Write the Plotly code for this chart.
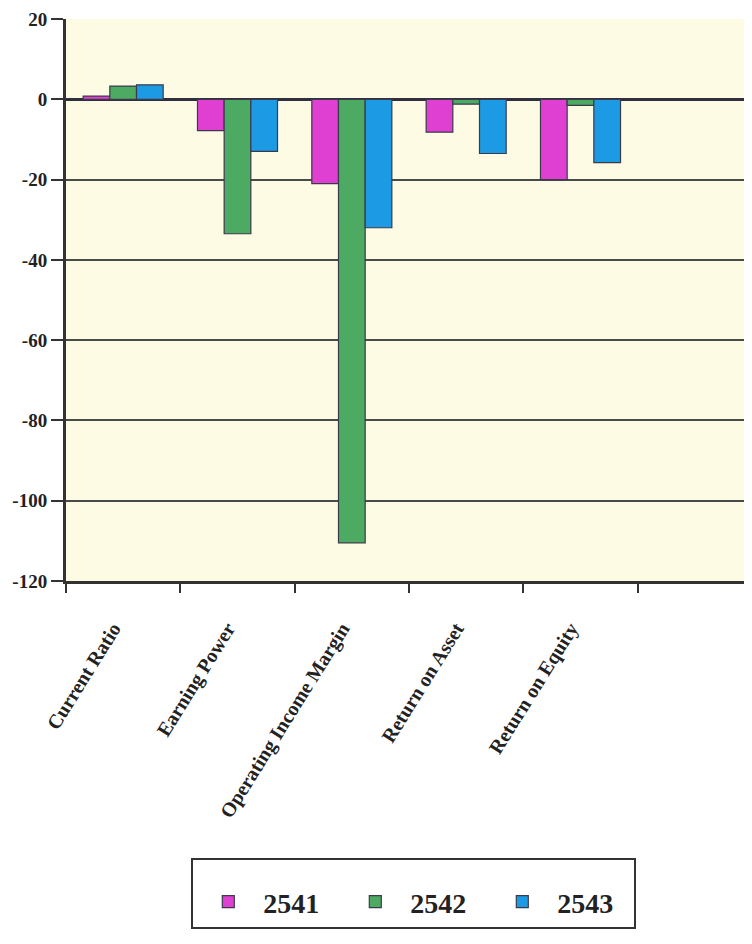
import plotly.graph_objects as go

categories = ["Current Ratio", "Earning Power", "Operating Income Margin",
              "Return on Asset", "Return on Equity", " "]
years = ["2541", "2542", "2543"]
v2541 = [0.8, -7.8, -21.0, -8.2, -20.0, None]
v2542 = [3.3, -33.5, -110.5, -1.2, -1.5, None]
v2543 = [3.6, -13.0, -32.0, -13.5, -15.8, None]
colors = ["#E040D2", "#4DAA62", "#1C9BE4"]
yticks = [20, 0, -20, -40, -60, -80, -100, -120]
yticklabels = ["20", "0", "-20", "-40", "-60", "-80", "-100", "-120"]

fig = go.Figure()
for name, vals, col in zip(years, [v2541, v2542, v2543], colors):
    fig.add_trace(go.Bar(x=categories, y=vals, name=name,
                         marker=dict(color=col, line=dict(color="#3a3a4a", width=1.2))))

serif = "Liberation Serif"
fig.update_layout(
    width=744, height=928,
    margin=dict(l=58, r=0, t=11, b=355),
    paper_bgcolor="white",
    plot_bgcolor="#FDFBE4",
    barmode="group", bargap=0.3, bargroupgap=0.0,
    font=dict(family=serif, color="#222222"),
    showlegend=True,
    legend=dict(orientation="h", x=0.507, xanchor="center", y=-0.493, yanchor="top",
                bgcolor="white", bordercolor="#333333", borderwidth=2,
                font=dict(family=serif, size=28, color="#222222", weight="bold"),
                title=dict(text="&nbsp;", side="top", font=dict(size=13)),
                itemwidth=60, entrywidth=72, entrywidthmode="pixels",
                traceorder="normal"),
    xaxis=dict(type="category", range=[-0.5, 5.5], tickangle=-58,
               tickson="boundaries", ticks="outside", ticklen=9, tickwidth=2,
               ticklabelstandoff=25, ticklabelshift=-10,
               tickcolor="#333333", showline=True, linecolor="#333333", linewidth=3,
               showgrid=False, automargin=False,
               tickfont=dict(family=serif, size=20, weight="bold", color="#222222")),
    yaxis=dict(range=[-120, 20], tickvals=yticks, ticktext=yticklabels,
               ticks="outside", ticklen=12, tickwidth=2,
               tickcolor="#333333", showline=True, linecolor="#333333", linewidth=3,
               showgrid=True, gridcolor="#4a4a4a", gridwidth=2,
               zeroline=True, zerolinecolor="#2f2f3f", zerolinewidth=3, automargin=False,
               tickfont=dict(family=serif, size=19, weight="bold", color="#222222")),
)
fig.write_html("out.html")
